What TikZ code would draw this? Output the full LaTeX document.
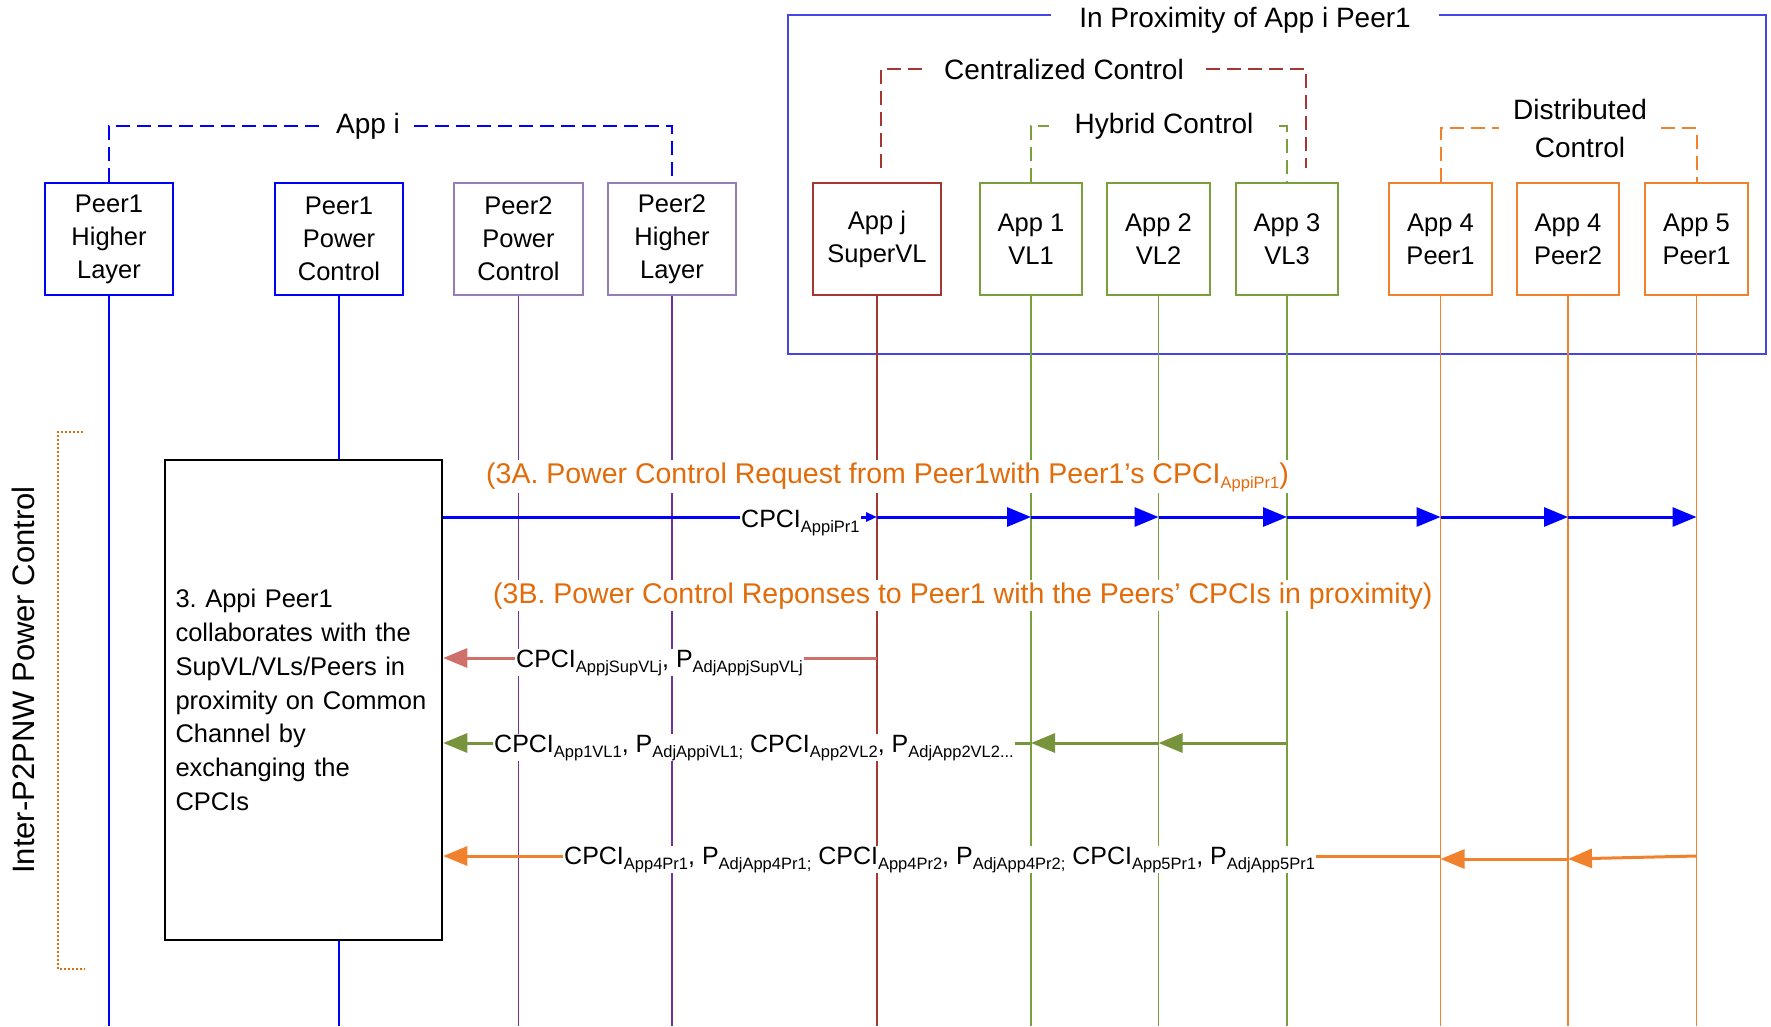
\documentclass[tikz,border=0pt]{standalone}
\usepackage{fontspec}
\setmainfont{Liberation Sans}
\usetikzlibrary{arrows.meta}
\definecolor{peerblue}{RGB}{0,0,255}
\definecolor{boxpurple}{RGB}{150,125,185}
\definecolor{linepurple}{RGB}{112,48,160}
\definecolor{supred}{RGB}{165,55,50}
\definecolor{vlgreen}{RGB}{120,160,60}
\definecolor{pgreen}{RGB}{119,147,60}
\definecolor{prorange}{RGB}{240,130,45}
\definecolor{noteorange}{RGB}{226,107,10}
\definecolor{proxblue}{RGB}{70,70,230}
\definecolor{respred}{RGB}{208,112,106}
\newcommand{\cpsub}[1]{\raisebox{-5pt}{\fontsize{16.5}{16.5}\selectfont #1}}
\tikzset{
  entity/.style={draw,line width=2pt,fill=white,minimum height=112pt,inner sep=0pt,
    align=center,text=black,font=\fontsize{25.5}{33}\selectfont},
  lifeline/.style={line width=1.5pt},
  grouplabel/.style={fill=white,inner ysep=2pt,font=\fontsize{28}{38}\selectfont},
  grouplink/.style={line width=2pt,dash pattern=on 14pt off 7pt},
  msg/.style={line width=3pt},
  bighead/.style={-{Triangle[length=24pt,width=19pt]}},
  msglabel/.style={fill=white,inner sep=1pt,anchor=base west,font=\fontsize{25}{30}\selectfont},
  notelabel/.style={fill=white,inner sep=2pt,anchor=base west,text=noteorange,
    font=\fontsize{28.5}{34}\selectfont}
}
\frenchspacing
\begin{document}
\begin{tikzpicture}[x=1pt,y=-1pt]
    \useasboundingbox (0,0) rectangle (1771,1026);
    \coordinate (bot) at (0,1026);
    \node[entity,draw=peerblue,minimum width=128pt] (p1hl) at (109,239) {Peer1\\Higher\\Layer};
    \node[entity,draw=peerblue,minimum width=128pt] (p1pc) at (339,239) {Peer1\\Power\\Control};
    \node[entity,draw=boxpurple,minimum width=129pt] (p2pc) at (518.5,239) {Peer2\\Power\\Control};
    \node[entity,draw=boxpurple,minimum width=128pt] (p2hl) at (672,239) {Peer2\\Higher\\Layer};
    \node[entity,draw=supred,minimum width=128pt] (supvl) at (877,239) {App j\\SuperVL};
    \node[entity,draw=vlgreen,minimum width=102pt] (vl1) at (1031,239) {App 1\\VL1};
    \node[entity,draw=vlgreen,minimum width=103pt] (vl2) at (1158.5,239) {App 2\\VL2};
    \node[entity,draw=vlgreen,minimum width=102pt] (vl3) at (1287,239) {App 3\\VL3};
    \node[entity,draw=prorange,minimum width=103pt] (a4p1) at (1440.5,239) {App 4\\Peer1};
    \node[entity,draw=prorange,minimum width=102pt] (a4p2) at (1568,239) {App 4\\Peer2};
    \node[entity,draw=prorange,minimum width=103pt] (a5p1) at (1696.5,239) {App 5\\Peer1};

    \draw[proxblue,line width=1.5pt] (788,15) rectangle (1766,354);
    \node[grouplabel,inner xsep=28pt] (proxt) at (1245,20) {In Proximity of App i Peer1};

    \node[grouplabel,inner xsep=14pt] (appi) at (368,126) {App i};
    \draw[grouplink,peerblue] (p1hl.north) |- (appi.west);
    \draw[grouplink,peerblue] (appi.east) -| (p2hl.north);
    \node[grouplabel,inner xsep=22pt] (cctl) at (1064,69) {Centralized Control};
    \coordinate (ccl) at (881,168);
    \coordinate (ccr) at (1306,168);
    \draw[grouplink,supred] (ccl) |- (cctl.west);
    \draw[grouplink,supred] (cctl.east) -| (ccr);
    \node[grouplabel,inner xsep=25pt] (hctl) at (1164,126) {Hybrid Control};
    \draw[grouplink,vlgreen] (vl1.north) |- (hctl.west);
    \draw[grouplink,vlgreen] (hctl.east) -| (vl3.north);
    \node[grouplabel,align=center,inner xsep=14pt] (dctl) at (1580,128) {Distributed\\Control};
    \draw[grouplink,prorange] (a4p1.north) |- (dctl.west);
    \draw[grouplink,prorange] (dctl.east) -| (a5p1.north);

    \node[draw,line width=2.5pt,fill=white,minimum width=277pt,minimum height=480pt,
      text width=256pt,inner sep=0pt,align=left,font=\fontsize{25.5}{33.8}\selectfont]
      (work) at (303.5,700) {3. Appi Peer1\\collaborates with the\\SupVL/VLs/Peers in\\proximity on Common\\Channel by\\exchanging the\\CPCIs};

    \draw[lifeline,peerblue] (p1hl.south) -- (p1hl.south |- bot);
    \draw[lifeline,peerblue] (p1pc.south) -- (p1pc.south |- work.north);
    \draw[lifeline,peerblue] (p1pc.south |- work.south) -- (p1pc.south |- bot);
    \draw[lifeline,linepurple] (p2pc.south) -- (p2pc.south |- bot);
    \draw[lifeline,linepurple] (p2hl.south) -- (p2hl.south |- bot);
    \draw[lifeline,supred] (supvl.south) -- (supvl.south |- bot);
    \draw[lifeline,vlgreen] (vl1.south) -- (vl1.south |- bot);
    \draw[lifeline,vlgreen] (vl2.south) -- (vl2.south |- bot);
    \draw[lifeline,vlgreen] (vl3.south) -- (vl3.south |- bot);
    \draw[lifeline,prorange] (a4p1.south) -- (a4p1.south |- bot);
    \draw[lifeline,prorange] (a4p2.south) -- (a4p2.south |- bot);
    \draw[lifeline,prorange] (a5p1.south) -- (a5p1.south |- bot);

    \draw[noteorange,line width=2pt,dash pattern=on 2pt off 2pt] (83,432) -- (58,432) -- (58,969) -- (85,969);
    \node[rotate=90,font=\fontsize{31}{31}\selectfont] (phase) at (23.5,680) {Inter-P2PNW Power Control};

    \coordinate (ya) at (0,517);
    \draw[msg,peerblue,-{Triangle[length=11pt,width=9pt]}] (work.east |- ya) -- (supvl.south |- ya);
    \draw[msg,peerblue,bighead] (supvl.south |- ya) -- (vl1.south |- ya);
    \draw[msg,peerblue,bighead] (vl1.south |- ya) -- (vl2.south |- ya);
    \draw[msg,peerblue,bighead] (vl2.south |- ya) -- (vl3.south |- ya);
    \draw[msg,peerblue,bighead] (vl3.south |- ya) -- (a4p1.south |- ya);
    \draw[msg,peerblue,bighead] (a4p1.south |- ya) -- (a4p2.south |- ya);
    \draw[msg,peerblue,bighead] (a4p2.south |- ya) -- (a5p1.south |- ya);
    \node[msglabel] (cpcireq) at (740,527) {CPCI\cpsub{AppiPr1}};
    \node[notelabel] (n3a) at (484,483) {(3A. Power Control Request from Peer1with Peer1's CPCI\cpsub{AppiPr1})};
    \node[notelabel] (n3b) at (491,603) {(3B. Power Control Reponses to Peer1 with the Peers’ CPCIs in proximity)};

    \coordinate (yb) at (0,658);
    \draw[msg,respred,bighead] (supvl.south |- yb) -- (work.east |- yb);
    \node[msglabel] (cpcisup) at (515,667) {CPCI\cpsub{AppjSupVLj}, P\cpsub{AdjAppjSupVLj}};

    \coordinate (yc) at (0,743);
    \draw[msg,pgreen,bighead] (vl3.south |- yc) -- (vl2.south |- yc);
    \draw[msg,pgreen,bighead] (vl2.south |- yc) -- (vl1.south |- yc);
    \draw[msg,pgreen,bighead] (vl1.south |- yc) -- (work.east |- yc);
    \node[msglabel] (cpcivl) at (493,752) {CPCI\cpsub{App1VL1}, P\cpsub{AdjAppiVL1;} CPCI\cpsub{App2VL2}, P\cpsub{AdjApp2VL2...}};

    \coordinate (yd) at (0,856);
    \coordinate (ye) at (0,859);
    \draw[msg,prorange,bighead] (a5p1.south |- yd) -- (a4p2.south |- ye);
    \draw[msg,prorange,bighead] (a4p2.south |- ye) -- (a4p1.south |- ye);
    \draw[msg,prorange,bighead] (a4p1.south |- yd) -- (work.east |- yd);
    \node[msglabel] (cpcipr) at (563,864) {CPCI\cpsub{App4Pr1}, P\cpsub{AdjApp4Pr1;} CPCI\cpsub{App4Pr2}, P\cpsub{AdjApp4Pr2;} CPCI\cpsub{App5Pr1}, P\cpsub{AdjApp5Pr1}};
  \end{tikzpicture}
\end{document}
